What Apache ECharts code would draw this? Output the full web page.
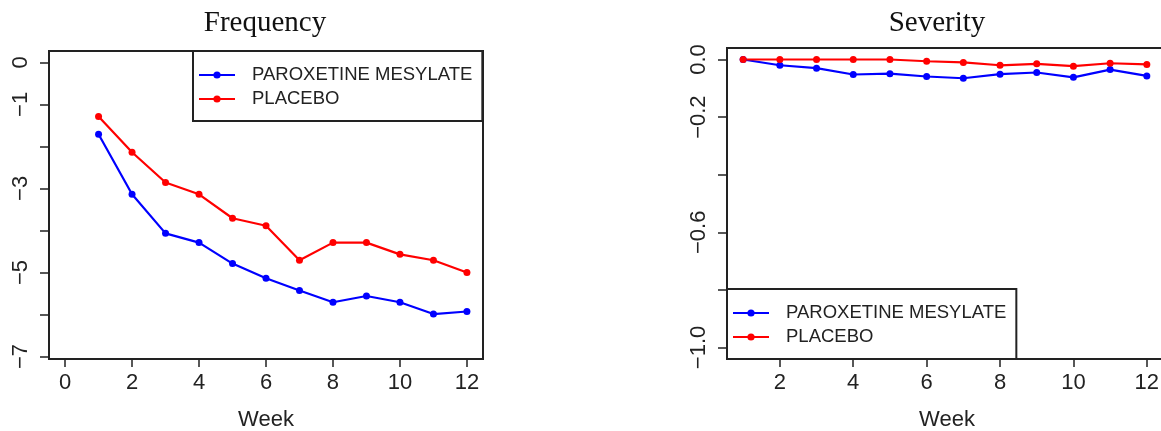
<!DOCTYPE html>
<html>

<head lang="en">
    <meta charset="utf-8">
    <title>Frequency / Severity</title>
    <script src="https://cdn.jsdelivr.net/npm/echarts@6.0.0/dist/echarts.min.js"></script>
    <style>
        body { margin: 0; background: #fff; }
    </style>
</head>

<body>
    <div id="main" style="width: 1161px;height:431px;"></div>
    <script type="text/javascript">
        var myChart = echarts.init(document.getElementById('main'));

        /*--------------------- data ----------------------------*/
        var weeks = [1, 2, 3, 4, 5, 6, 7, 8, 9, 10, 11, 12];
        var seriesNames = ['PAROXETINE MESYLATE', 'PLACEBO'];

        var freqParoxetine = [-1.71, -3.14, -4.07, -4.29, -4.79, -5.14, -5.43, -5.71, -5.56, -5.71, -5.99, -5.93];
        var freqPlacebo = [-1.29, -2.14, -2.86, -3.14, -3.71, -3.89, -4.71, -4.29, -4.29, -4.57, -4.71, -5.00];

        var sevParoxetine = [0.000, -0.020, -0.030, -0.052, -0.049, -0.059, -0.065, -0.051, -0.045, -0.062, -0.035, -0.057];
        var sevPlacebo = [0.000, 0.000, 0.000, 0.000, 0.000, -0.006, -0.010, -0.020, -0.015, -0.023, -0.013, -0.017];

        // tick positions and the labels that R kept
        var freqXTicks = [0, 2, 4, 6, 8, 10, 12];
        var freqYTicks = [0, -1, -2, -3, -4, -5, -6, -7];
        var freqYLabels = [0, -1, -3, -5, -7];
        var sevXTicks = [2, 4, 6, 8, 10, 12];
        var sevYTicks = [0, -0.2, -0.4, -0.6, -0.8, -1.0];
        var sevYLabels = [0, -0.2, -0.6, -1.0];

        /*--------------------- style ----------------------------*/
        var blue = '#0000ff';
        var red = '#ff0000';
        var ink = '#222222';
        var sans = 'Liberation Sans';

        function pairs(xs, ys) {
            return xs.map(function (x, i) { return [x, ys[i]]; });
        }

        function minus(s) {
            return String(s).replace('-', '\u2212');
        }

        function xAxis(grid, min, max, ticks) {
            return {
                type: 'value',
                gridIndex: grid,
                min: min,
                max: max,
                name: 'Week',
                nameLocation: 'middle',
                nameGap: 50,
                nameTextStyle: { fontFamily: sans, fontSize: 22, color: ink },
                splitLine: { show: false },
                axisLine: { show: false, onZero: false },
                axisTick: {
                    show: true,
                    inside: false,
                    length: 8,
                    customValues: ticks,
                    lineStyle: { color: ink, width: 1.5 }
                },
                axisLabel: {
                    customValues: ticks,
                    margin: 13,
                    fontFamily: sans,
                    fontSize: 22,
                    color: ink
                }
            };
        }

        function yAxis(grid, min, max, ticks, labels, digits) {
            return {
                type: 'value',
                gridIndex: grid,
                min: min,
                max: max,
                splitLine: { show: false },
                axisLine: { show: false, onZero: false },
                axisTick: {
                    show: true,
                    inside: false,
                    length: 9,
                    customValues: ticks,
                    lineStyle: { color: ink, width: 1.5 }
                },
                axisLabel: {
                    customValues: labels,
                    rotate: 90,
                    margin: 17,
                    fontFamily: sans,
                    fontSize: 22,
                    color: ink,
                    formatter: function (v) {
                        return minus(digits ? v.toFixed(digits) : Math.round(v));
                    }
                }
            };
        }

        function line(name, grid, data, color) {
            return {
                name: name,
                type: 'line',
                xAxisIndex: grid,
                yAxisIndex: grid,
                data: data,
                symbol: 'circle',
                symbolSize: 7,
                animation: false,
                lineStyle: { color: color, width: 2.2 },
                itemStyle: { color: color }
            };
        }

        function legend(left, top) {
            return {
                data: seriesNames,
                orient: 'vertical',
                left: left,
                top: top,
                itemWidth: 36,
                itemHeight: 9,
                itemGap: 4,
                padding: [14, 10, 12, 5],
                borderColor: ink,
                borderWidth: 2,
                backgroundColor: '#fff',
                selectedMode: false,
                textStyle: {
                    fontFamily: sans,
                    fontSize: 18.5,
                    lineHeight: 20,
                    color: ink,
                    padding: [0, 0, 0, 12]
                }
            };
        }

        var option = {
            backgroundColor: '#fff',
            animation: false,
            title: [{
                text: 'Frequency',
                left: 265,
                top: 9,
                textAlign: 'center',
                padding: 0,
                textStyle: { fontFamily: 'Liberation Serif', fontWeight: 'normal', fontSize: 29, color: '#111' }
            }, {
                text: 'Severity',
                left: 937,
                top: 9,
                textAlign: 'center',
                padding: 0,
                textStyle: { fontFamily: 'Liberation Serif', fontWeight: 'normal', fontSize: 29, color: '#111' }
            }],
            grid: [{
                left: 49,
                top: 51,
                width: 434,
                height: 308,
                outerBoundsMode: 'none',
                containLabel: false,
                show: true,
                borderColor: ink,
                borderWidth: 2,
                backgroundColor: 'transparent'
            }, {
                // right edge of the box lies just off the picture
                left: 727,
                top: 48,
                width: 440,
                height: 311,
                outerBoundsMode: 'none',
                containLabel: false,
                show: true,
                borderColor: ink,
                borderWidth: 2,
                backgroundColor: 'transparent'
            }],
            legend: [legend(193, 51), legend(727, 289)],
            xAxis: [
                xAxis(0, -0.48, 12.48, freqXTicks),
                xAxis(1, 0.56, 12.55, sevXTicks)
            ],
            yAxis: [
                yAxis(0, -7.06, 0.27, freqYTicks, freqYLabels, 0),
                yAxis(1, -1.04, 0.04, sevYTicks, sevYLabels, 1)
            ],
            series: [
                line(seriesNames[0], 0, pairs(weeks, freqParoxetine), blue),
                line(seriesNames[1], 0, pairs(weeks, freqPlacebo), red),
                line(seriesNames[0], 1, pairs(weeks, sevParoxetine), blue),
                line(seriesNames[1], 1, pairs(weeks, sevPlacebo), red)
            ]
        };

        myChart.setOption(option);
    </script>
</body>

</html>
